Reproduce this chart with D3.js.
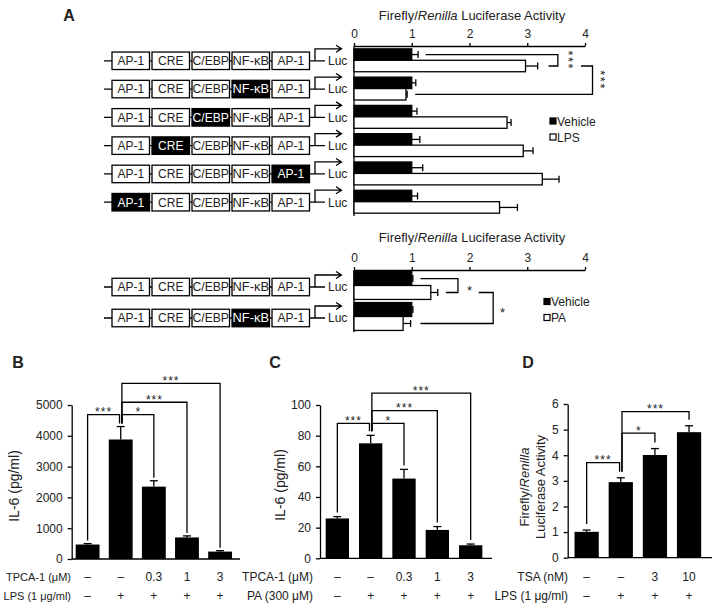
<!DOCTYPE html>
<html><head><meta charset="utf-8">
<script src="https://cdn.jsdelivr.net/npm/d3@7"></script>
<style>
body{margin:0;background:#fff}
svg{display:block}
text{font-family:Arial,"Liberation Sans",sans-serif;fill:#222}
</style>
</head><body>
<svg id="c" width="715" height="606"></svg>
<script>
// ---------- Panel A data ----------
const elements = ["AP-1","CRE","C/EBP","NF-κB","AP-1"];
const activityTicks = [0,1,2,3,4];
const topMutated = [-1,3,2,1,4,0];
const topVehicle = [1,1,1,1,1,1];
const topVehicleErr = [0.11,0.07,0.09,0.14,0.19,0.1];
const topLPS = [2.97,0.9,2.65,2.93,3.26,2.52];
const topLPSErr = [0.21,0.02,0.07,0.17,0.29,0.31];
const topSeries = ["Vehicle","LPS"];
const botMutated = [-1,3];
const botVehicle = [1,1];
const botVehicleErr = [0.02,0.02];
const botPA = [1.33,0.85];
const botPAErr = [0.12,0.13];
const botSeries = ["Vehicle","PA"];
// brackets: [rowA, seriesA, endA, rowB, seriesB, endB, xLevel, starX, label]
const topBrackets = [[0,0,1.24,0,1,3.37,3.53,3.74,"***"],[0,1,3.93,1,1,1.06,4.13,4.3,"***"]];
const botBrackets = [[0,0,1.15,0,1,1.59,1.8,2.0,"*"],[0,1,2.16,1,1,1.15,2.41,2.57,"*"]];

// ---------- Panel B ----------
const bRow1 = ["–","–","0.3","1","3"];
const bRow2 = ["–","+","+","+","+"];
const bValues = [470,3880,2350,700,240];
const bErr = [30,420,190,50,30];
const bTicks = [0,1000,2000,3000,4000,5000];
const bBrackets = [[0,1,4690,"***"],[1,2,4690,"*"],[1,3,5090,"***"],[1,4,5700,"***"]];
// ---------- Panel C ----------
const cRow1 = ["–","–","0.3","1","3"];
const cRow2 = ["–","+","+","+","+"];
const cValues = [26,75,52,18.5,8.5];
const cErr = [1.2,5.2,6,2.2,0.8];
const cTicks = [0,20,40,60,80,100];
const cBrackets = [[0,1,88,"***"],[1,2,88,"*"],[1,3,96.3,"***"],[1,4,107.8,"***"]];
// ---------- Panel D ----------
const dRow1 = ["–","–","3","10"];
const dRow2 = ["–","+","+","+"];
const dValues = [1.01,2.95,4.01,4.9];
const dErr = [0.07,0.17,0.25,0.25];
const dTicks = [0,1,2,3,4,5,6];
const dBrackets = [[0,1,3.71,"***"],[1,2,4.86,"*"],[1,3,5.70,"***"]];

const svg = d3.select("#c");
const LW = 1.3;

function letter(t,x,y){
  svg.append("text").attr("x",x).attr("y",y).attr("text-anchor","middle")
    .attr("dy","0.35em").attr("font-size",16).attr("font-weight","bold").attr("fill","#111").text(t);
}

// ---------- Panel A ----------
function drawLucPanel(o){
  const g = svg.append("g");
  const x = d3.scaleLinear().domain([0,4]).range([354,585]);
  const rows = d3.range(o.vehicle.length);
  const y = d3.scaleBand().domain(rows).range(o.yRange).paddingInner(o.pi).paddingOuter(o.po);
  const sub = d3.scaleBand().domain([0,1]).range([0,y.bandwidth()]);
  const t = g.append("text").attr("x",472).attr("y",o.titleY).attr("dy","0.35em")
    .attr("text-anchor","middle").attr("font-size",13);
  t.append("tspan").text("Firefly/");
  t.append("tspan").attr("font-style","italic").text("Renilla");
  t.append("tspan").text(" Luciferase Activity");
  const ax = g.append("g").attr("transform",`translate(0,${o.yRange[0]})`)
    .call(d3.axisTop(x).tickValues(activityTicks).tickSize(3).tickSizeOuter(0).tickPadding(5).tickFormat(d3.format("d")));
  ax.selectAll("text").attr("font-size",12).attr("fill","#222");
  ax.selectAll("path,line").attr("stroke","#000").attr("stroke-width",LW);
  g.append("line").attr("x1",x(0)).attr("x2",x(0)).attr("y1",o.yRange[0]).attr("y2",o.yRange[1])
    .attr("stroke","#000").attr("stroke-width",LW);
  const series = [o.vehicle,o.other], errs = [o.vehicleErr,o.otherErr];
  series.forEach((vals,s)=>{
    rows.forEach(r=>{
      const yy = y(r)+sub(s), h = sub.bandwidth();
      g.append("rect").attr("x",x(0)).attr("y",yy).attr("width",x(vals[r])-x(0)).attr("height",h)
        .attr("fill",s===0?"#000":"#fff").attr("stroke","#000").attr("stroke-width",LW);
      const cy = yy+h/2, xe = x(vals[r]+errs[s][r]);
      g.append("line").attr("x1",x(vals[r])).attr("x2",xe).attr("y1",cy).attr("y2",cy)
        .attr("stroke","#000").attr("stroke-width",LW);
      g.append("line").attr("x1",xe).attr("x2",xe).attr("y1",cy-3.5).attr("y2",cy+3.5)
        .attr("stroke","#000").attr("stroke-width",LW);
    });
  });
  const bx = d3.scaleBand().domain(d3.range(elements.length)).range([112,309.5]).paddingInner(0.063).paddingOuter(0);
  rows.forEach(r=>{
    const cy = y(r)+y.bandwidth()/2 + o.boxShift;
    const bh = 17.5;
    g.append("line").attr("x1",104).attr("x2",325).attr("y1",cy).attr("y2",cy).attr("stroke","#000").attr("stroke-width",LW);
    elements.forEach((e,i)=>{
      const mut = o.mutated[r]===i;
      g.append("rect").attr("x",bx(i)).attr("y",cy-bh/2).attr("width",bx.bandwidth()).attr("height",bh)
        .attr("fill",mut?"#000":"#fff").attr("stroke","#000").attr("stroke-width",LW);
      g.append("text").attr("x",bx(i)+bx.bandwidth()/2).attr("y",cy).attr("dy","0.36em")
        .attr("text-anchor","middle").attr("font-size",12).style("fill",mut?"#fff":"#222")
        .attr("textLength", e.length>4?bx.bandwidth()-1:null).attr("lengthAdjust","spacingAndGlyphs").text(e);
    });
    const ax0 = 315, ay = cy-12;
    g.append("path").attr("d",`M${ax0},${cy}V${ay}H341.5M336,${ay-3.5}L341.5,${ay}L336,${ay+3.5}`)
      .attr("fill","none").attr("stroke","#000").attr("stroke-width",LW);
    g.append("rect").attr("x",326).attr("y",cy-7).attr("width",22).attr("height",14).attr("fill","#fff");
    g.append("text").attr("x",328).attr("y",cy).attr("dy","0.36em").attr("font-size",12).text("Luc");
  });
  o.brackets.forEach(b=>{
    const [ra,sa,ea,rb,sb,eb,lv,sx,lab] = b;
    const ya = y(ra)+sub(sa)+sub.bandwidth()/2, yb = y(rb)+sub(sb)+sub.bandwidth()/2;
    g.append("path").attr("d",`M${x(ea)},${ya}H${x(lv)}V${yb}H${x(eb)}`)
      .attr("fill","none").attr("stroke","#000").attr("stroke-width",LW);
    const st = g.append("text").attr("font-size",13).attr("text-anchor","middle");
    if(lab.length>1){
      st.attr("transform",`translate(${x(sx)-1},${(ya+yb)/2}) rotate(90)`).attr("y",5).attr("letter-spacing",1.5).text(lab);
    } else {
      st.attr("x",x(sx)).attr("y",(ya+yb)/2+9).text(lab);
    }
  });
  o.legend.forEach((name,i)=>{
    const ly = o.legendY + i*16;
    g.append("rect").attr("x",o.legendX).attr("y",ly-3.5).attr("width",6).attr("height",6)
      .attr("fill",i===0?"#000":"#fff").attr("stroke","#000").attr("stroke-width",1.2);
    g.append("text").attr("x",o.legendX+7).attr("y",ly).attr("dy","0.35em").attr("font-size",12).text(name);
  });
}

letter("A",69,15);
drawLucPanel({vehicle:topVehicle,vehicleErr:topVehicleErr,other:topLPS,otherErr:topLPSErr,mutated:topMutated,
  yRange:[46,216],pi:0.19,po:0.1,titleY:15,boxShift:0.5,brackets:topBrackets,legend:topSeries,legendX:550,legendY:121.5});
drawLucPanel({vehicle:botVehicle,vehicleErr:botVehicleErr,other:botPA,otherErr:botPAErr,mutated:botMutated,
  yRange:[270,332],pi:0.1,po:0.05,titleY:237,boxShift:1.5,brackets:botBrackets,legend:botSeries,legendX:544,legendY:302});

// ---------- bar panels ----------
function drawBarPanel(o){
  const g = svg.append("g");
  const n = o.values.length;
  const x = d3.scaleBand().domain(d3.range(n)).range(o.xRange).paddingInner(o.pi).paddingOuter(o.po);
  const y = d3.scaleLinear().domain([0,o.ticks[o.ticks.length-1]]).range(o.yRange);
  const ax = g.append("g").attr("transform",`translate(${o.xRange[0]},0)`)
    .call(d3.axisLeft(y).tickValues(o.ticks).tickSize(4).tickSizeOuter(0).tickPadding(5).tickFormat(d3.format("d")));
  ax.selectAll("text").attr("font-size",12).attr("fill","#222");
  ax.selectAll("path,line").attr("stroke","#000").attr("stroke-width",LW);
  g.append("line").attr("x1",o.xRange[0]).attr("x2",o.xRange[1]+4).attr("y1",y(0)).attr("y2",y(0))
    .attr("stroke","#000").attr("stroke-width",LW);
  o.values.forEach((v,i)=>{
    g.append("rect").attr("x",x(i)).attr("y",y(v)).attr("width",x.bandwidth()).attr("height",y(0)-y(v)).attr("fill","#000");
    const cx = x(i)+x.bandwidth()/2, ye = y(v+o.err[i]);
    g.append("line").attr("x1",cx).attr("x2",cx).attr("y1",y(v)).attr("y2",ye).attr("stroke","#000").attr("stroke-width",LW);
    g.append("line").attr("x1",cx-4).attr("x2",cx+4).attr("y1",ye).attr("y2",ye).attr("stroke","#000").attr("stroke-width",LW);
  });
  const cxf = i=>x(i)+x.bandwidth()/2;
  o.brackets.forEach(b=>{
    const [a,c,lv,lab] = b;
    const xa = cxf(a)+(a===1?1.2:0), xb = cxf(c)-(c===1?1.2:0);
    const ya = y(o.values[a]+o.err[a])-o.gap, yb = y(o.values[c]+o.err[c])-o.gap, yl = y(lv);
    g.append("path").attr("d",`M${xa},${ya}V${yl}H${xb}V${yb}`).attr("fill","none").attr("stroke","#000").attr("stroke-width",LW);
    g.append("text").attr("x",(xa+xb)/2).attr("y",yl+1.5).attr("text-anchor","middle").attr("font-size",12)
      .attr("letter-spacing",lab.length>1?1:0).text(lab);
  });
  [o.row1,o.row2].forEach((row,k)=>{
    const yy = o.rowY[k];
    g.append("text").attr("x",o.labelX).attr("y",yy).attr("dy","0.35em").attr("text-anchor","end")
      .attr("font-size",o.labelSize).text(o.rowNames[k]);
    row.forEach((t,i)=>{
      g.append("text").attr("x",cxf(i)).attr("y",yy).attr("dy","0.35em").attr("text-anchor","middle").attr("font-size",12).text(t);
    });
  });
  const yl = g.append("g").attr("transform",`translate(${o.ylabX},${o.ylabY}) rotate(-90)`);
  o.ylab(yl);
}

letter("B",18,362);
drawBarPanel({values:bValues,err:bErr,ticks:bTicks,brackets:bBrackets,row1:bRow1,row2:bRow2,
  rowNames:["TPCA-1 (μM)","LPS (1 μg/ml)"],rowY:[577,596],labelX:71,labelSize:11,
  xRange:[71.7,236],pi:0.28,po:0.12,yRange:[559,405],gap:3,ylabX:14,ylabY:486,
  ylab:g=>g.append("text").attr("text-anchor","middle").attr("dy","0.35em").attr("font-size",14).text("IL-6 (pg/ml)")});

letter("C",275,362);
drawBarPanel({values:cValues,err:cErr,ticks:cTicks,brackets:cBrackets,row1:cRow1,row2:cRow2,
  rowNames:["TPCA-1 (μM)","PA (300 μM)"],rowY:[577,596],labelX:313,labelSize:12,
  xRange:[320,488],pi:0.3,po:0.17,yRange:[558.3,405],gap:4,ylabX:280,ylabY:485,
  ylab:g=>g.append("text").attr("text-anchor","middle").attr("dy","0.35em").attr("font-size",14).text("IL-6 (pg/ml)")});

letter("D",528,362);
drawBarPanel({values:dValues,err:dErr,ticks:dTicks,brackets:dBrackets,row1:dRow1,row2:dRow2,
  rowNames:["TSA (nM)","LPS (1 μg/ml)"],rowY:[577,596],labelX:568,labelSize:12,
  xRange:[567.7,708],pi:0.29,po:0.2,yRange:[557.7,404],gap:6,ylabX:532,ylabY:487,
  ylab:g=>{
    const t1 = g.append("text").attr("text-anchor","middle").attr("y",-8).attr("dy","0.35em").attr("font-size",13);
    t1.append("tspan").text("Firefly/");
    t1.append("tspan").attr("font-style","italic").text("Renilla");
    g.append("text").attr("text-anchor","middle").attr("y",8).attr("dy","0.35em").attr("font-size",13).text("Luciferase Activity");
  }});
</script>
</body></html>
